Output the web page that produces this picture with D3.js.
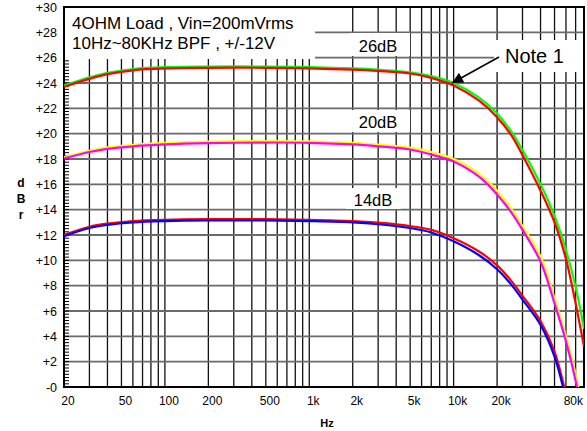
<!DOCTYPE html>
<html>
<head>
<meta charset="utf-8">
<script src="https://cdn.jsdelivr.net/npm/d3@7"></script>
<style>
body { margin: 0; background: #fff; }
text { font-family: "Liberation Sans", Arial, sans-serif; }
</style>
</head>
<body>
<svg width="587" height="431"></svg>
<script>
// frequency points (Hz) shared by every trace
var freqs = [20, 30, 40, 60, 100, 200, 500, 1000, 2000, 3000, 5000, 7000, 10000, 15000, 20000, 25000, 30000, 40000, 50000, 60000, 70000, 80000];

// 26dB pair
var g26Green = [23.8, 24.45, 24.8, 25.1, 25.25, 25.3, 25.3, 25.25, 25.15, 25.05, 24.85, 24.55, 24.0, 22.85, 21.6, 20.2, 18.7, 16.0, 13.5, 10.8, 7.9, 4.6];
var g26Red = [23.7, 24.33, 24.7, 25.0, 25.15, 25.2, 25.2, 25.15, 25.05, 24.95, 24.75, 24.4, 23.8, 22.6, 21.3, 19.9, 18.3, 15.5, 13.0, 10.1, 6.6, 3.2];
// 20dB pair
var g20Yellow = [18.15, 18.65, 18.92, 19.12, 19.27, 19.37, 19.42, 19.4, 19.28, 19.13, 18.9, 18.55, 18.0, 16.85, 15.5, 14.1, 12.7, 10.3, 7.0, 4.0, 1.0, -2.5];
var g20Magenta = [18.05, 18.55, 18.8, 19.0, 19.15, 19.25, 19.3, 19.28, 19.15, 19.0, 18.75, 18.35, 17.8, 16.6, 15.2, 13.8, 12.4, 9.9, 6.6, 3.6, 0.5, -3];
// 14dB pair
var g14Red = [12.0, 12.65, 12.9, 13.1, 13.2, 13.25, 13.25, 13.2, 13.1, 12.97, 12.7, 12.4, 11.75, 10.7, 9.6, 8.4, 7.2, 5.2, 2.8, -0.6, -4.5, -9];
var g14Blue = [11.9, 12.55, 12.8, 13.0, 13.1, 13.15, 13.15, 13.1, 13.0, 12.85, 12.55, 12.2, 11.5, 10.4, 9.3, 8.1, 6.9, 4.9, 2.4, -1.0, -5, -9.5];

var xTicks = [20, 50, 100, 200, 500, 1000, 2000, 5000, 10000, 20000, 80000];
var xTickLabels = ['20', '50', '100', '200', '500', '1k', '2k', '5k', '10k', '20k', '80k'];
var yTicks = [0, 2, 4, 6, 8, 10, 12, 14, 16, 18, 20, 22, 24, 26, 28, 30];

var svg = d3.select('svg');

var x = d3.scaleLog().domain([20, 80000]).range([64, 584]);
var y = d3.scaleLinear().domain([0, 30]).range([387, 7]);

// grid frequencies 30..90, 100..900, ...
var gridF = [];
[10, 100, 1000, 10000].forEach(function(dec){
    for (var k = 1; k <= 9; k++) {
        var f = k * dec;
        if (f > 20 && f < 80000) gridF.push(f);
    }
});

var grid = svg.append('g');
grid.selectAll('line.v')
    .data(gridF)
    .enter()
    .append('line')
    .attr('x1', function(d){ return x(d); })
    .attr('x2', function(d){ return x(d); })
    .attr('y1', y(30))
    .attr('y2', y(0))
    .attr('stroke', '#111')
    .attr('stroke-width', 1.3);

grid.selectAll('line.h')
    .data(yTicks.filter(function(d){ return d > 0 && d < 30; }))
    .enter()
    .append('line')
    .attr('x1', x(20))
    .attr('x2', x(80000))
    .attr('y1', function(d){ return y(d); })
    .attr('y2', function(d){ return y(d); })
    .attr('stroke', '#6a6a6a')
    .attr('stroke-width', 1.8);

// minor ticks on the left axis
svg.append('g')
    .selectAll('line')
    .data(d3.range(0, 30.01, 0.25))
    .enter()
    .append('line')
    .attr('x1', x(20))
    .attr('x2', x(20) + 5)
    .attr('y1', function(d){ return y(d); })
    .attr('y2', function(d){ return y(d); })
    .attr('stroke', '#000')
    .attr('stroke-width', 1);

// white label boxes covering the grid
function box(x0, y0, w, h){
    svg.append('rect')
        .attr('x', x0).attr('y', y0)
        .attr('width', w).attr('height', h)
        .attr('fill', '#fff');
}
box(65, 8, 250, 51);
box(350, 33, 60, 23);
box(349, 110, 61, 22);
box(346, 188, 55, 21);
box(494, 40, 89, 32);

// frame
svg.append('rect')
    .attr('x', x(20)).attr('y', y(30))
    .attr('width', x(80000) - x(20)).attr('height', y(0) - y(30))
    .attr('fill', 'none')
    .attr('stroke', '#000')
    .attr('stroke-width', 2);

// traces
svg.append('clipPath').attr('id', 'clip')
    .append('rect')
    .attr('x', x(20)).attr('y', y(30))
    .attr('width', x(80000) - x(20)).attr('height', y(0) - y(30));

var line = d3.line()
    .x(function(d){ return x(d[0]); })
    .y(function(d){ return y(d[1]); })
    .curve(d3.curveCatmullRom.alpha(0.5));

var traces = [
    [g26Green, '#00ff00'], [g26Red, '#ff0000'],
    [g20Yellow, '#ffff00'], [g20Magenta, '#ff00ff'],
    [g14Red, '#ff0000'], [g14Blue, '#0000ff']
];
svg.append('g')
    .attr('clip-path', 'url(#clip)')
    .selectAll('path')
    .data(traces)
    .enter()
    .append('path')
    .attr('d', function(t){ return line(freqs.map(function(f, i){ return [f, t[0][i]]; })); })
    .attr('fill', 'none')
    .attr('stroke', function(t){ return t[1]; })
    .attr('stroke-width', 2.2);

// y labels
svg.append('g')
    .selectAll('text')
    .data(yTicks)
    .enter()
    .append('text')
    .attr('x', 57)
    .attr('y', function(d){ return y(d) + 4.5; })
    .attr('text-anchor', 'end')
    .attr('font-size', 12.5)
    .text(function(d){ return d === 0 ? '-0' : '+' + d; });

// x labels
svg.append('g')
    .selectAll('text')
    .data(xTicks)
    .enter()
    .append('text')
    .attr('x', function(d){ return d === 80000 ? x(d) - 1 : x(d) + 4; })
    .attr('y', 405)
    .attr('text-anchor', function(d){ return d === 80000 ? 'end' : 'middle'; })
    .attr('font-size', 12)
    .text(function(d, i){ return xTickLabels[i]; });

// axis titles
svg.append('text')
    .attr('x', 327).attr('y', 427)
    .attr('text-anchor', 'middle')
    .attr('font-size', 11)
    .attr('font-weight', 'bold')
    .text('Hz');

['d', 'B', 'r'].forEach(function(c, i){
    svg.append('text')
        .attr('x', 21).attr('y', 187 + i * 16)
        .attr('text-anchor', 'middle')
        .attr('font-size', 12)
        .attr('font-weight', 'bold')
        .text(c);
});

// annotations
svg.append('text').attr('x', 72).attr('y', 29).attr('font-size', 17).text('4OHM Load , Vin=200mVrms');
svg.append('text').attr('x', 72).attr('y', 49).attr('font-size', 17).text('10Hz~80KHz BPF , +/-12V');
svg.append('text').attr('x', 378).attr('y', 52).attr('text-anchor', 'middle').attr('font-size', 16.5).text('26dB');
svg.append('text').attr('x', 378).attr('y', 128).attr('text-anchor', 'middle').attr('font-size', 16.5).text('20dB');
svg.append('text').attr('x', 373).attr('y', 206).attr('text-anchor', 'middle').attr('font-size', 16.5).text('14dB');
svg.append('text').attr('x', 505).attr('y', 63).attr('font-size', 20).text('Note 1');

// arrow
svg.append('defs').append('marker')
    .attr('id', 'arr')
    .attr('viewBox', '0 0 10 10')
    .attr('refX', 10).attr('refY', 5)
    .attr('markerWidth', 16).attr('markerHeight', 11)
    .attr('markerUnits', 'userSpaceOnUse')
    .attr('orient', 'auto')
    .append('path')
    .attr('d', 'M0,0L10,5L0,10Z')
    .attr('fill', '#000');
svg.append('line')
    .attr('x1', 499).attr('y1', 57)
    .attr('x2', 452).attr('y2', 83)
    .attr('stroke', '#000')
    .attr('stroke-width', 1.5)
    .attr('marker-end', 'url(#arr)');
</script>
</body>
</html>
